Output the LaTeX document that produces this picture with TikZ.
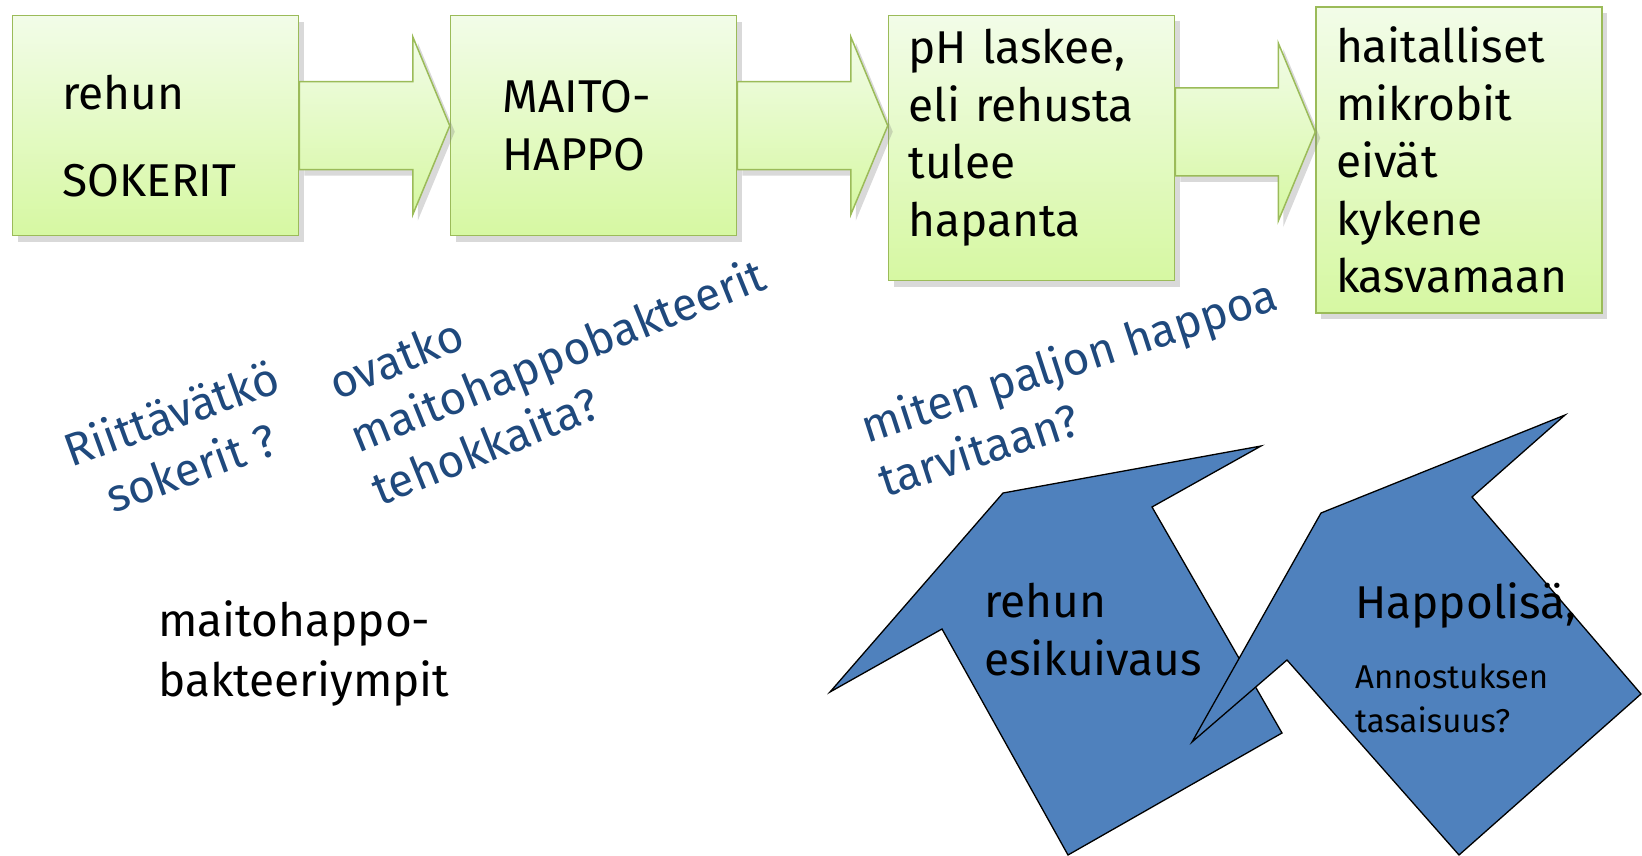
\documentclass[tikz,border=0pt]{standalone}
\usepackage{fontspec}
\setmainfont{Fira Sans}
\usepackage{tikz}
\usetikzlibrary{calc, shadows}

\definecolor{boxtop}{RGB}{242,252,232}
\definecolor{boxbottom}{RGB}{214,248,162}
\definecolor{boxedge}{RGB}{155,187,89}
\definecolor{askblue}{RGB}{31,73,125}
\definecolor{arrowblue}{RGB}{79,129,189}

\newcommand{\stagefont}{\fontsize{46}{57.5}\selectfont}
\newcommand{\notefont}{\fontsize{33}{44}\selectfont}
\newcommand{\padtop}[1]{\rule{0pt}{#1}}
\newcommand{\padbot}[1]{\rule[-#1]{0pt}{#1}}

% fat green arrow from one box to the next
\newcommand{\flowarrow}[3]{%
  \coordinate (#1o) at ($(#1.east)+(0,#3)$);
  \coordinate (#2i) at (#1o -| #2.west);
  \draw[flowarrow] ($(#1o)+(0,-44)$) -- ($(#2i)+(-37,-44)$) -- ($(#2i)+(-37,-89)$)
    -- (#2i) -- ($(#2i)+(-37,89)$) -- ($(#2i)+(-37,44)$) -- ($(#1o)+(0,44)$) -- cycle;
}

\begin{document}
\begin{tikzpicture}[x=1pt, y=-1pt,
    stagebox/.style={draw=boxedge, line width=1.5pt, top color=boxtop, bottom color=boxbottom,
      drop shadow={shadow xshift=5pt, shadow yshift=-6pt, opacity=0.3},
      minimum width=286pt, align=left, font=\stagefont},
    flowarrow/.style={draw=boxedge, line width=1.5pt, top color=boxtop, bottom color=boxbottom,
      drop shadow={shadow xshift=5pt, shadow yshift=-6pt, opacity=0.3}},
    ask/.style={text=askblue, font=\stagefont, align=left, inner sep=0pt, anchor=base west},
    plain/.style={font=\stagefont, align=left, inner sep=0pt, anchor=base west},
    bluearrow/.style={fill=arrowblue, draw=black, line width=1.3pt}]

    \useasboundingbox (0,0) rectangle (1642,856);

    % the chain of boxes
    \node[stagebox, text width=186pt, inner xsep=50pt, minimum height=220pt] (sokerit) at (155.5,125.7)
      {\padtop{56pt}rehun\\[29.5pt]SOKERIT};
    \node[stagebox, text width=182pt, inner xsep=52pt, minimum height=220pt] (maito) at (593.5,125.7)
      {MAITO-\\HAPPO};
    \node[stagebox, text width=246pt, inner xsep=20pt, minimum height=265pt] (ph) at (1031.5,148)
      {pH laskee,\\eli rehusta\\tulee\\hapanta\padbot{30pt}};
    \node[stagebox, text width=246pt, inner xsep=20pt, minimum height=306pt] (mikrobit) at (1459,160)
      {haitalliset\\mikrobit\\eivät\\kykene\\kasvamaan};

    \flowarrow{sokerit}{maito}{0}
    \flowarrow{maito}{ph}{0}
    \flowarrow{ph}{mikrobit}{-16}

    % questions (anchored at the last line)
    \node[ask, rotate=20, align=center] (sokeriask) at (91,522) {Riittävätkö\\sokerit ?};
    \node[ask, rotate=22] (bakteeriask) at (380,507) {ovatko\\maitohappobakteerit\\tehokkaita?};
    \node[ask, rotate=18] (happoask) at (885,498) {miten paljon happoa\\tarvitaan?};

    \node[plain] (ympit) at (158,696) {maitohappo-\\[2pt]bakteeriympit};

    % blue arrows
    \draw[bluearrow] (1003,493) -- (1261,446) -- (1152,507) -- (1282,733) -- (1068,855)
      -- (942,629) -- (830,692) -- cycle;
    \node[plain] (esikuivaus) at (984,675) {rehun\\esikuivaus};

    \draw[bluearrow] (1321,513) -- (1565,415) -- (1472,497) -- (1641,694) -- (1459,855)
      -- (1287,660) -- (1192,742) -- cycle;
    \node[plain] (happolisa) at (1355,618) {Happolisä,};
    \node[plain, font=\notefont] (annostus) at (1355,732) {Annostuksen\\tasaisuus?};

\end{tikzpicture}
\end{document}
